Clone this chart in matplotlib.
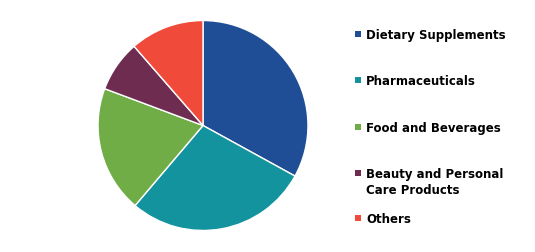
import matplotlib as mpl
mpl.use("Agg")
import matplotlib.pyplot as plt
from matplotlib.patches import Rectangle

# Market share by segment (%)
segments = ["Dietary Supplements", "Pharmaceuticals", "Food and Beverages",
            "Beauty and Personal\nCare Products", "Others"]
shares = [33.0, 28.2, 19.5, 7.9, 11.4]
colors = ["#1F4E96", "#13939E", "#70AD47", "#6F2C51", "#F04A3A"]

# legend row positions (pixels from top of figure)
legend_y = [35, 81, 128, 174, 219]

W, H = 535, 253
fig = plt.figure(figsize=(W / 100, H / 100), dpi=100)
fig.patch.set_facecolor("white")

cx, cy, r = 203, 126.5, 105.5
ax = fig.add_axes([(cx - r) / W, (H - cy - r) / H, 2 * r / W, 2 * r / H])
ax.pie(shares, colors=colors, startangle=90, counterclock=False, radius=1,
       wedgeprops=dict(edgecolor="white", linewidth=1.0))
ax.set_xlim(-1.005, 1.005)
ax.set_ylim(-1.005, 1.005)
ax.set_aspect("equal")
ax.axis("off")

# legend drawn by hand to match the uneven row spacing
sq = 6
for lab, col, y in zip(segments, colors, legend_y):
    fig.patches.append(Rectangle(((355) / W, (H - y - sq / 2) / H), sq / W, sq / H,
                                 transform=fig.transFigure, facecolor=col,
                                 edgecolor="none"))
    fig.text(366 / W, (H - y + 6) / H, lab, ha="left", va="top",
             fontsize=8.5, fontweight="bold", color="black",
             family="DejaVu Sans", linespacing=1.25)

fig.savefig("out.png", dpi=100, facecolor="white")
plt.close(fig)
